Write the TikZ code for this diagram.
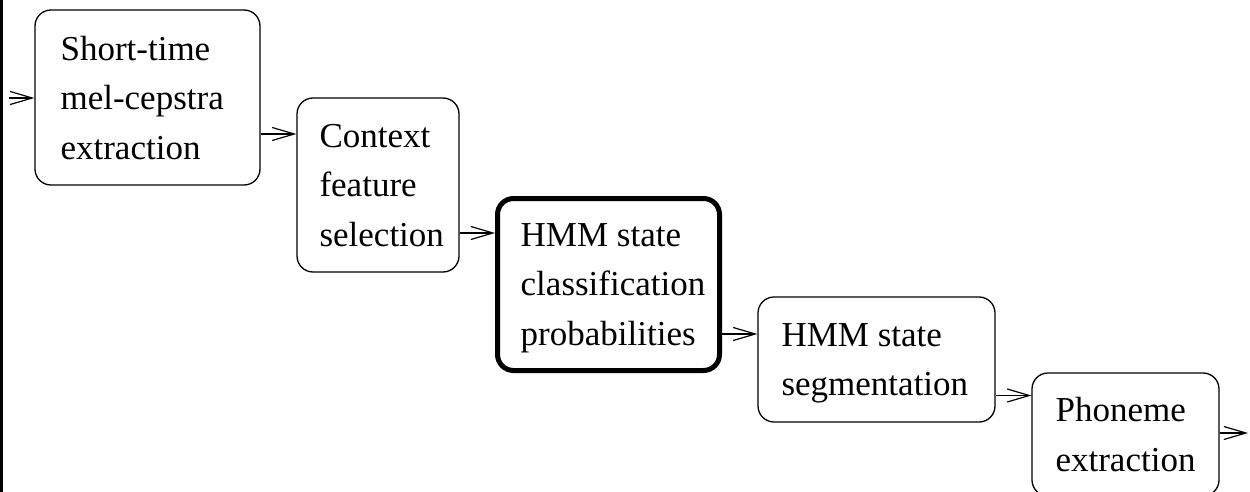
\documentclass[tikz,border=0pt]{standalone}
\usepackage{fontspec}
\setmainfont{Liberation Serif}
\usetikzlibrary{arrows.meta}
\tikzset{
  stage/.style={draw=black, line width=1.3pt, rounded corners=16pt, inner sep=0pt},
  keystage/.style={stage, line width=5pt},
  label/.style={align=left, inner sep=0pt, text depth=0pt, anchor=west,
    font=\fontsize{35}{49.5}\selectfont},
  arr/.style={-{Straight Barb[length=22pt,width=13pt]}, line width=1.2pt},
}
\begin{document}
\begin{tikzpicture}[x=1pt,y=-1pt]
\useasboundingbox (0,0) rectangle (1250,492);
% left bar
\draw[line width=3pt] (1.5,0) -- (1.5,492);

\node[stage, minimum width=225pt, minimum height=175pt] (b1) at (147.5,97.5) {};
\node[stage, minimum width=162pt, minimum height=174pt] (b2) at (378,185) {};
\node[keystage, minimum width=222pt, minimum height=172pt] (b3) at (608.5,284.5) {};
\node[stage, minimum width=237pt, minimum height=125pt] (b4) at (876.5,359.5) {};
\node[stage, minimum width=187pt, minimum height=123pt] (b5) at (1125.5,434.5) {};

\node[label] (t1) at ([xshift=26pt]b1.west) {Short-time\\mel-cepstra\\extraction};
\node[label] (t2) at ([xshift=23pt]b2.west) {Context\\feature\\selection};
\node[label] (t3) at ([xshift=25.5pt]b3.west) {HMM state\\classification\\probabilities};
\node[label] (t4) at ([xshift=24pt]b4.west) {HMM state\\segmentation};
\node[label] (t5) at ([xshift=24pt]b5.west) {Phoneme\\extraction};

\coordinate (in) at (9,98);
\coordinate (out) at (1248,433);

\draw[arr] (in) -- (b1.west |- in);
\draw[arr] ([yshift=-36.5pt]b1.east) coordinate (a12) -- (b2.west |- a12);
\draw[arr] ([yshift=-48pt]b2.east) coordinate (a23) -- (b3.west |- a23);
\draw[arr] ([yshift=-49.5pt]b3.east) coordinate (a34) -- (b4.west |- a34);
\draw[arr] ([yshift=-36pt]b4.east) coordinate (a45) -- (b5.west |- a45);
\draw[arr] (b5.east |- out) -- (out);
\end{tikzpicture}
\end{document}
